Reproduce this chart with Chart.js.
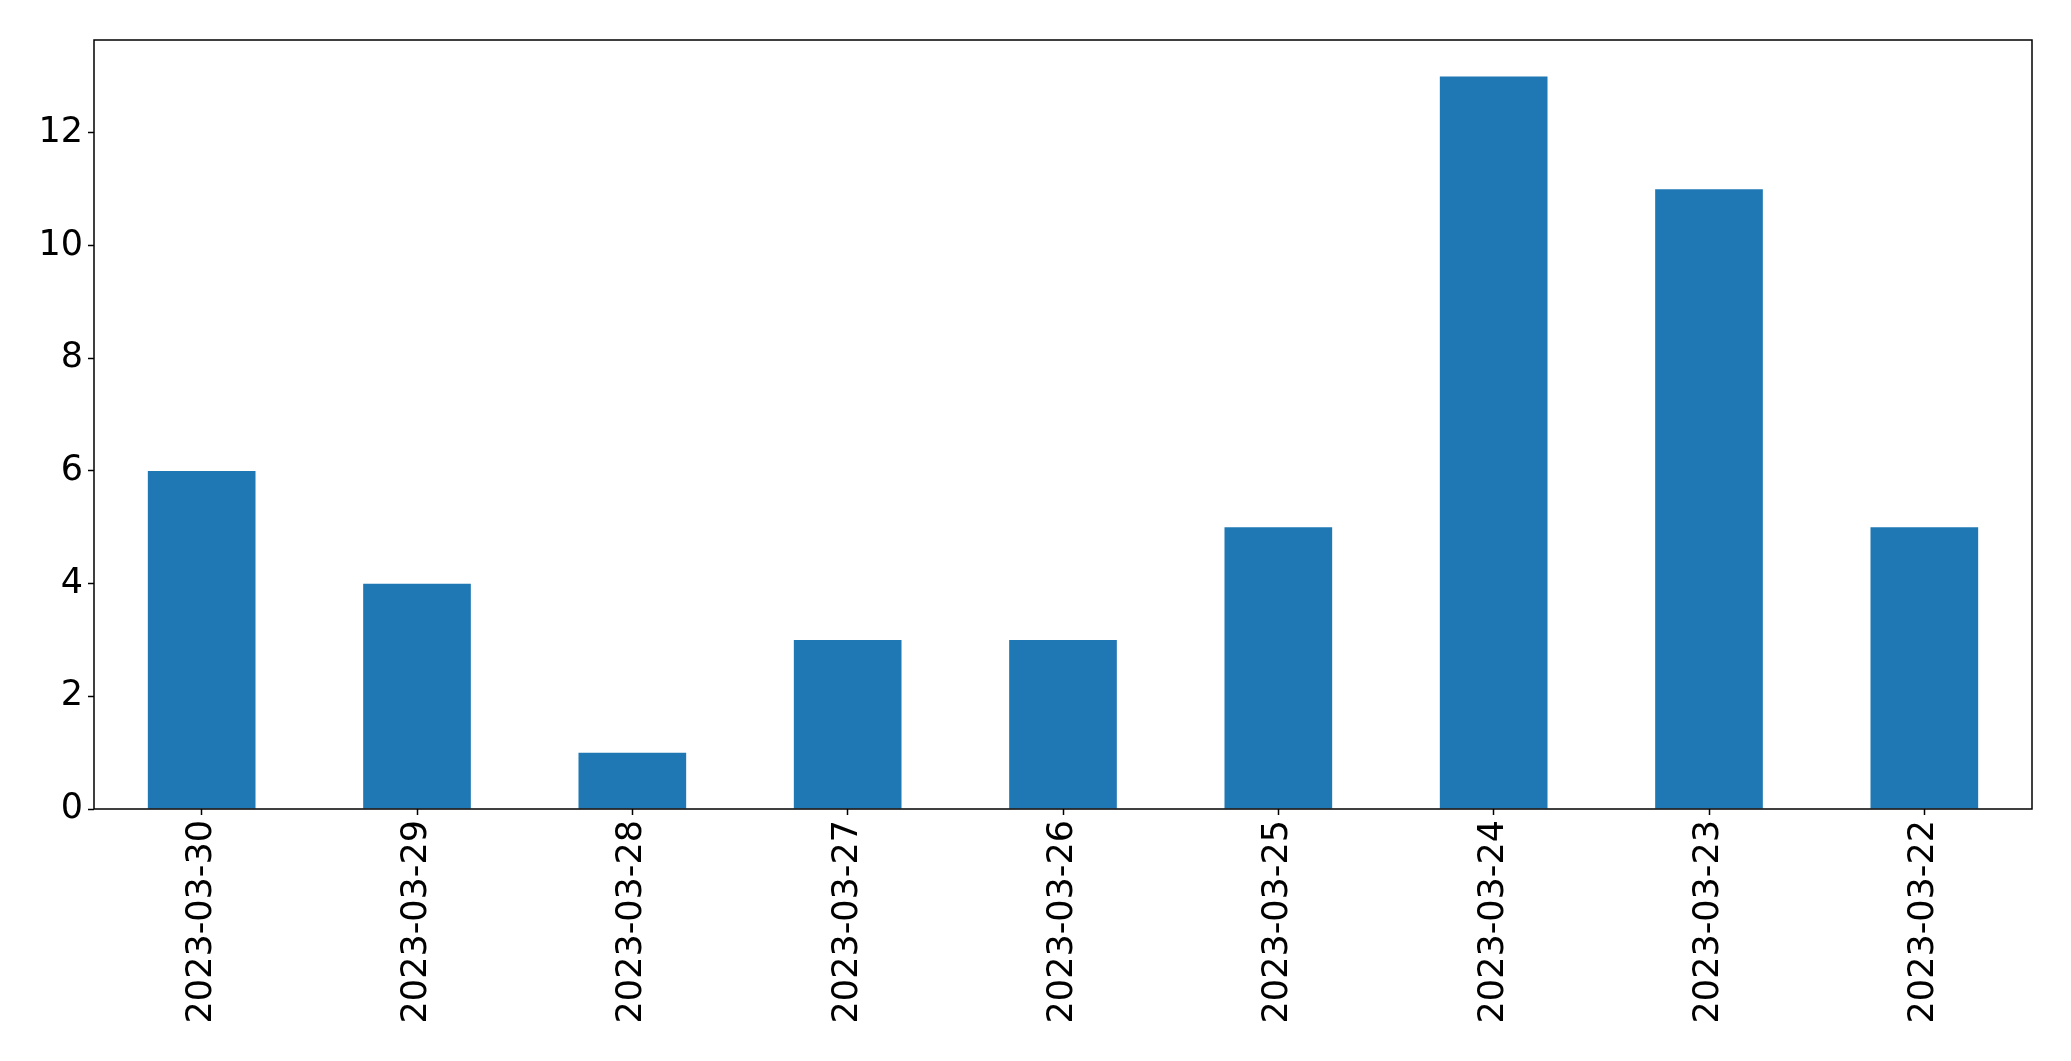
<!DOCTYPE html>
<html>
<head>
<meta charset="utf-8">
<script src="https://cdn.jsdelivr.net/npm/chart.js@4.4.1/dist/chart.umd.min.js"></script>
<style>
  html, body { margin: 0; padding: 0; background: #fff; }
  #wrap { width: 2071px; height: 1061px; position: relative; }
</style>
</head>
<body>
<div id="wrap"><canvas id="bar-chart"></canvas></div>
<script>
var dates = ["2023-03-30", "2023-03-29", "2023-03-28", "2023-03-27", "2023-03-26",
             "2023-03-25", "2023-03-24", "2023-03-23", "2023-03-22"];
var counts = [6, 4, 1, 3, 3, 5, 13, 11, 5];
var yTicks = [0, 2, 4, 6, 8, 10, 12];

// box around the plot area, like matplotlib's spines
var frame = {
    id: 'frame',
    afterDraw: function(chart) {
        var a = chart.chartArea, ctx = chart.ctx;
        ctx.save();
        ctx.strokeStyle = '#000';
        ctx.lineWidth = 1.5;
        ctx.strokeRect(a.left, a.top, a.right - a.left, a.bottom - a.top);
        ctx.restore();
    }
};

new Chart(document.getElementById("bar-chart"), {
    type: 'bar',
    data: {
        labels: dates,
        datasets: [{
            data: counts,
            backgroundColor: "#1f77b4",
            categoryPercentage: 1,
            barPercentage: 0.5
        }]
    },
    options: {
        responsive: true,
        maintainAspectRatio: false,
        animation: false,
        layout: { padding: { top: 40, right: 39, left: 0, bottom: 0 } },
        plugins: {
            legend: { display: false },
            tooltip: { enabled: false }
        },
        scales: {
            x: {
                grid: { offset: false, drawOnChartArea: false, tickLength: 6, tickColor: '#000', tickWidth: 1.5 },
                border: { display: false },
                ticks: {
                    minRotation: 90, maxRotation: 90, padding: 5,
                    color: '#000',
                    font: { family: 'DejaVu Sans', size: 35 }
                },
                afterFit: function(s) { s.height = 252; }
            },
            y: {
                min: 0,
                max: 13.65,
                grid: { drawOnChartArea: false, tickLength: 6, tickColor: '#000', tickWidth: 1.5 },
                border: { display: false },
                ticks: {
                    padding: 5,
                    color: '#000',
                    font: { family: 'DejaVu Sans', size: 35 }
                },
                afterBuildTicks: function(s) {
                    s.ticks = yTicks.map(function(v) { return { value: v }; });
                },
                afterFit: function(s) { s.width = 94; }
            }
        }
    },
    plugins: [frame]
});
</script>
</body>
</html>
